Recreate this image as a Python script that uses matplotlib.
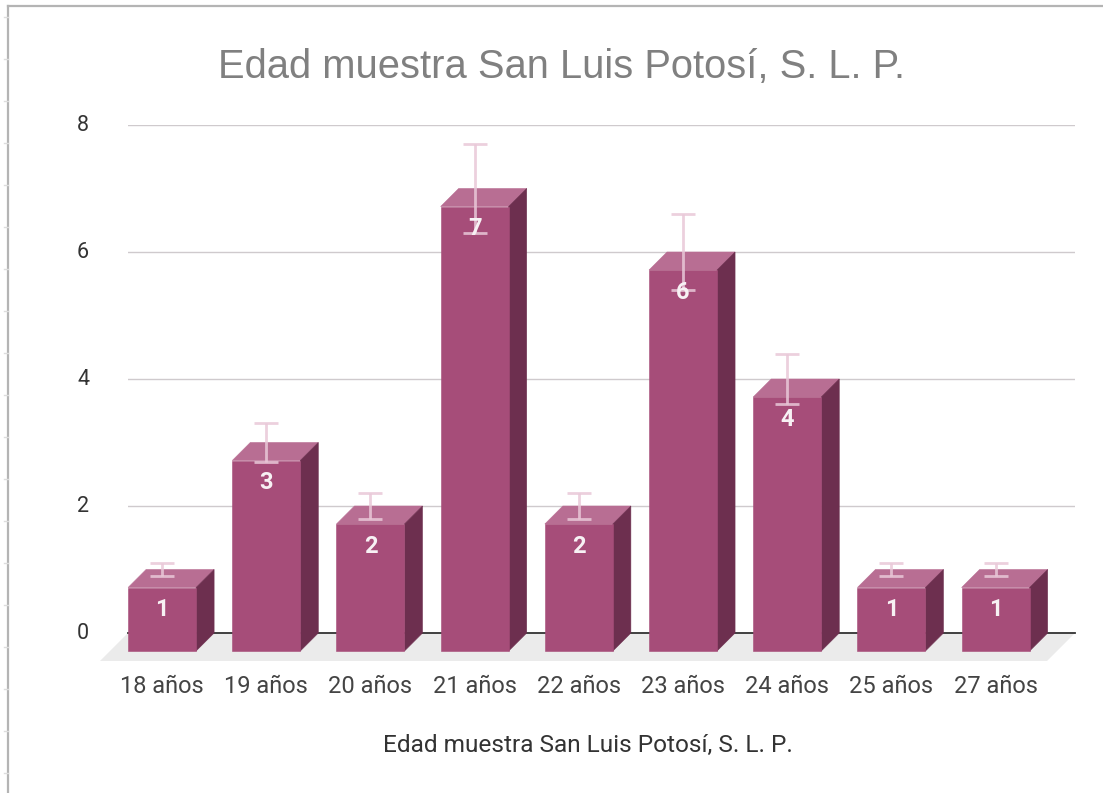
import matplotlib
matplotlib.use('Agg')
from matplotlib import pyplot as plt
from matplotlib.patches import Polygon
from matplotlib.lines import Line2D
from matplotlib.transforms import Affine2D
import numpy as np

categories = ['18 años', '19 años', '20 años', '21 años', '22 años',
              '23 años', '24 años', '25 años', '27 años']
values = [1, 3, 2, 7, 2, 6, 4, 1, 1]
y_ticks = [0, 2, 4, 6, 8]

W, H = 1103, 793
plt.rcParams['font.family'] = ['Roboto', 'DejaVu Sans']

fig = plt.figure(figsize=(W / 100, H / 100), dpi=100)
ax = fig.add_axes([128 / W, 1 - 633 / H, (1075 - 128) / W, (633 - 125) / H])
ax.set_xlim(-0.5, 8.589)
ax.set_ylim(0, 8)

# 3d look: depth of the bars and floor, in pixels turned into data units
px_x = (8.589 + 0.5) / (1075 - 128)
px_y = 8 / (633 - 125)
dx = 18 * px_x
dy = 18 * px_y
fx = 28 * px_x
fy = 28 * px_y
bar_w = 68 * px_x

x = np.arange(len(values))
xf = x - dx

# floor
ax.add_patch(Polygon([(-0.5, 0), (8.589, 0), (8.589 - fx, -fy), (-0.5 - fx, -fy)],
                     closed=True, color='#ebebeb', lw=0, clip_on=False, zorder=1))
ax.plot([-0.5, 8.589], [0, 0], color='#333333', lw=1.3, clip_on=False, zorder=2)

for i, v in enumerate(values):
    l = xf[i] - bar_w / 2
    r = xf[i] + bar_w / 2
    top = v - dy
    ax.add_patch(Polygon([(l, top), (r, top), (r + dx, v), (l + dx, v)], closed=True,
                         facecolor='#b86e93', edgecolor='#b86e93', lw=0.4, clip_on=False, zorder=3))
    ax.add_patch(Polygon([(r, -dy), (r + dx, 0), (r + dx, v), (r, top)], closed=True,
                         facecolor='#6d2f4f', edgecolor='#6d2f4f', lw=0.4, clip_on=False, zorder=3))

ax.bar(xf, values, width=bar_w, bottom=-dy, color='#a64d79', edgecolor='#a64d79', lw=0.4,
       clip_on=False, zorder=4)

yerr = [v * 0.1 for v in values]
ax.errorbar(xf, values, yerr=yerr, fmt='none', ecolor='#e9c8d8', elinewidth=2,
            capsize=8.5, capthick=2, alpha=0.85, clip_on=False, zorder=5)

for i, v in enumerate(values):
    ax.annotate(str(v), (xf[i], v - dy), xytext=(0, -16), textcoords='offset points',
                ha='center', va='center', color='#f7f1f4', fontsize=17, fontweight='bold',
                zorder=6)

ax.set_yticks(y_ticks)
ax.set_xticks(xf)
ax.set_xticklabels(categories)
ax.tick_params(axis='y', length=0, pad=28, labelsize=15.5, labelcolor='#333333')
ax.tick_params(axis='x', length=0, pad=30, labelsize=17, labelcolor='#444444')
for lab in ax.get_yticklabels():
    lab.set_transform(lab.get_transform() + Affine2D().translate(0, 2))
ax.yaxis.grid(True, color='#cfcacd', lw=1)
ax.set_axisbelow(True)
for s in ax.spines.values():
    s.set_visible(False)

fig.text(561 / W, 1 - 67 / H, 'Edad muestra San Luis Potosí, S. L. P.', ha='center', va='center',
         color='#808080', fontsize=28.75, family='Liberation Sans')
fig.text(588 / W, 1 - 745 / H, 'Edad muestra San Luis Potosí, S. L. P.', ha='center', va='center',
         color='#333333', fontsize=17.6)

# frame of the spreadsheet around the chart
fig.add_artist(Line2D([8 / W, 8 / W], [0, 1 - 6 / H], color='#b4b4b4', lw=1.6))
fig.add_artist(Line2D([8 / W, 1], [1 - 6 / H, 1 - 6 / H], color='#b4b4b4', lw=1.6))
for yy in range(17, H, 42):
    fig.add_artist(Line2D([4 / W, 8 / W], [1 - yy / H, 1 - yy / H], color='#dddddd', lw=1))

fig.savefig('out.png', dpi=100)
